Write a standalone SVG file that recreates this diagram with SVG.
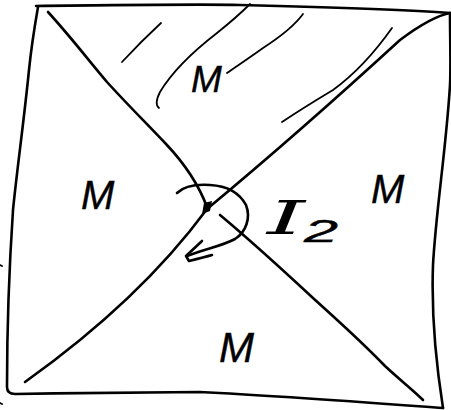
<svg xmlns="http://www.w3.org/2000/svg" width="451" height="410" viewBox="0 0 451 410">
<style>
.s{fill:none;stroke:#000;stroke-width:2.6;stroke-linecap:round;stroke-linejoin:round}
.h{fill:none;stroke:#000;stroke-width:1.8;stroke-linecap:round;stroke-linejoin:round}
.m{font-family:"Liberation Sans",Arial,sans-serif;font-style:italic;fill:#000;stroke:#000;stroke-width:0.4}
.i{font-family:"DejaVu Serif","Liberation Serif",serif;font-style:italic;fill:#000}
</style>
<rect width="451" height="410" fill="#fff"/>
<g id="frame">
<path class="s" d="M36,6 C120,5 200,4 240,5 C320,7 400,9 450,13"/>
<path class="s" d="M38,7 C34,30 31,50 29,70 C24,120 17,170 13,210 C9,270 7,330 7,387 Q7,394 15,394 C80,393 150,392 200,392 C280,396 360,402 443,408"/>
<path class="s" d="M450,13 C450,40 451,65 450,85 C446,150 436,210 433,265 C431,320 437,370 443,408"/>
<path class="h" d="M0,265 L2,266"/>
<path class="h" d="M0,403 L2,404"/>
</g>
<g id="diagonals">
<path class="s" d="M48,12 C70,36 90,62 107,82 C125,102 150,127 166,144 C184,163 198,183 207,207"/>
<path class="s" d="M220,215 C250,240 285,272 313,298 C335,318 360,340 385,366 C400,380 413,390 423,400"/>
<path class="s" d="M25,382 Q140,300 207,209"/>
<path class="s" d="M207,209 C260,165 340,95 400,40 C420,25 435,16 450,13"/>
<path d="M204,203 L212,201 L210,211 L202,214 Z" fill="#000"/>
</g>
<g id="hatching">
<path class="h" d="M122,62 C135,48 148,35 161,23"/>
<path class="h" d="M159,108 C155,105 156,100 160,92 C172,72 195,50 217,33 C232,21 243,11 250,4"/>
<path class="h" d="M227,73 C240,64 252,56 263,48 C280,37 295,25 303,14"/>
<path class="h" d="M282,122 C300,110 318,99 333,90 C355,74 375,52 392,28"/>
</g>
<g id="rotation">
<path class="s" d="M177,193 C184,186 195,184 210,185 C228,186 240,194 246,205 C251,218 246,232 235,239 C222,246 205,249 187,256"/>
<path class="s" d="M202,241 L186,256 L189,261 C197,259 205,257 212,255"/>
</g>
<g id="labels">
<text class="m" x="191" y="92" font-size="37">M</text>
<text class="m" x="81" y="209" font-size="40">M</text>
<text class="m" x="371" y="203" font-size="40">M</text>
<text class="m" x="219" y="362" font-size="42">M</text>
<text class="i" x="267" y="234" font-size="46" textLength="38" lengthAdjust="spacingAndGlyphs">I</text>
<text class="m" x="304" y="242" font-size="32" textLength="34" lengthAdjust="spacingAndGlyphs">2</text>
</g>
</svg>
